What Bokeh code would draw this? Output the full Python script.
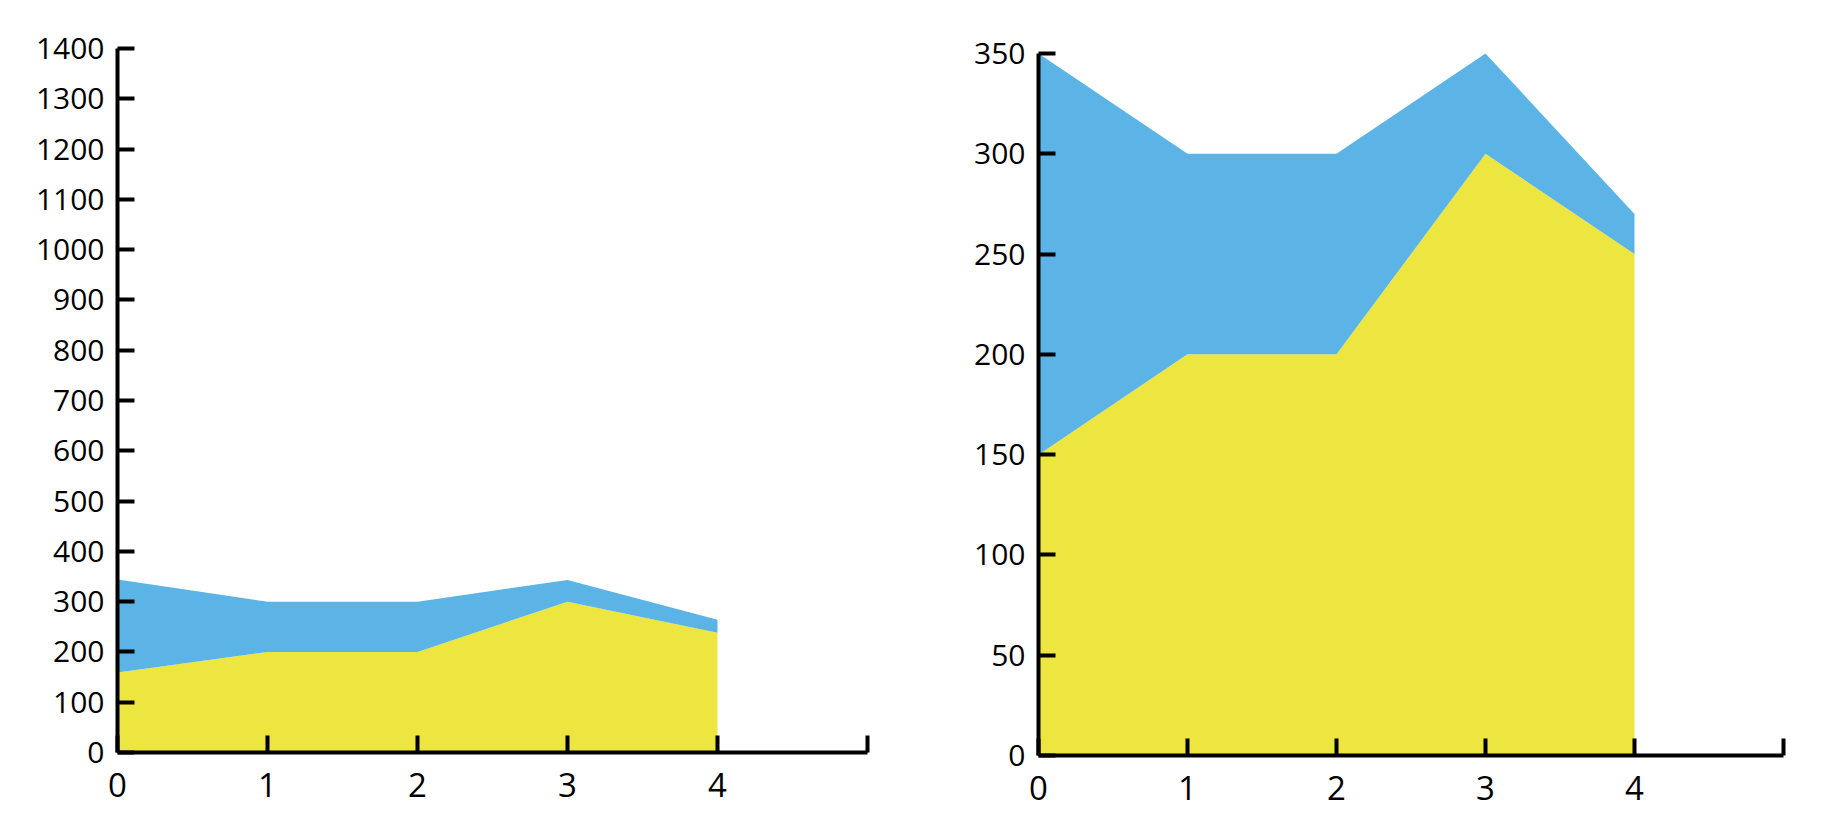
from bokeh.plotting import figure
from bokeh.layouts import row, column
from bokeh.models import ColumnDataSource, Range1d, FixedTicker
from bokeh.embed import file_html
from bokeh.resources import INLINE

x = [0, 1, 2, 3, 4]
left_yellow = [159, 200, 200, 300, 238]
left_blue = [185, 100, 100, 43, 26]
right_yellow = [150, 200, 200, 300, 250]
right_blue = [200, 100, 100, 50, 20]
x_ticks = [0, 1, 2, 3, 4, 5]
left_y_ticks = list(range(0, 1401, 100))
right_y_ticks = list(range(0, 351, 50))

YELLOW = "#EDE641"
BLUE = "#5BB4E5"
FONT = "Open Sans"


def make(yellow, blue, ymax, yticks, width, height, bl, bt, bb, br):
    p = figure(width=width, height=height, output_backend="svg", toolbar_location=None,
               x_range=Range1d(0, 5), y_range=Range1d(0, ymax),
               min_border_left=bl, min_border_top=bt, min_border_bottom=bb, min_border_right=br)
    src = ColumnDataSource(dict(x=x, yellow=yellow, blue=blue))
    p.varea_stack(["yellow", "blue"], x="x", source=src, color=[YELLOW, BLUE])
    p.outline_line_color = None
    p.grid.visible = False
    p.background_fill_color = "white"
    p.border_fill_color = "white"
    for ax in (p.xaxis[0], p.yaxis[0]):
        ax.axis_line_width = 4
        ax.axis_line_color = "black"
        ax.major_tick_line_width = 4
        ax.major_tick_line_color = "black"
        ax.major_tick_in = 17
        ax.major_tick_out = 0
        ax.minor_tick_line_color = None
        ax.major_label_text_font = FONT
        ax.major_label_text_color = "black"
    p.xaxis.ticker = FixedTicker(ticks=x_ticks)
    p.xaxis.major_label_overrides = {5: ""}
    p.xaxis.major_label_text_font_size = "33px"
    p.xaxis.major_label_standoff = 20
    p.yaxis.ticker = FixedTicker(ticks=yticks)
    p.yaxis.major_label_text_font_size = "30px"
    p.yaxis.major_label_standoff = 13
    return p


# left: frame x 117..867, y 48..752
p1 = make(left_yellow, left_blue, 1400, left_y_ticks, 950, 830, 117, 48, 78, 83)
# right: frame x 1038..1783, y 53..755
p2 = make(right_yellow, right_blue, 350, right_y_ticks, 880, 830, 88, 53, 75, 47)

layout = row(column(p1), column(p2))
open("out.html", "w").write(file_html(layout, INLINE))
